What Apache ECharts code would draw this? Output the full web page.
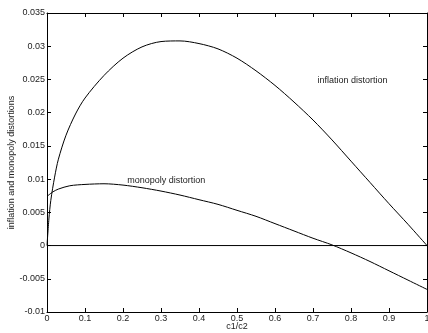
<!DOCTYPE html>
<html>
<head>
<meta charset="utf-8">
<script src="https://cdn.jsdelivr.net/npm/echarts@6/dist/echarts.min.js"></script>
<style>html,body{margin:0;padding:0;background:#fff;}#c{width:428px;height:333px;}</style>
</head>
<body>
<div id="c"></div>
<script>
var inflationX = [0, 0.005, 0.01, 0.02, 0.03, 0.05, 0.075, 0.1, 0.15, 0.2, 0.25, 0.3, 0.35, 0.4, 0.45, 0.5, 0.55, 0.6, 0.65, 0.7, 0.75, 0.8, 0.85, 0.9, 0.95, 1.0];
var inflation = [0, 0.0040, 0.0068, 0.0103, 0.0130, 0.0166, 0.0198, 0.0222, 0.0256, 0.0282, 0.0299, 0.0307, 0.0308, 0.0304, 0.0296, 0.0282, 0.0263, 0.0241, 0.0216, 0.0189, 0.0159, 0.0127, 0.0095, 0.0063, 0.0032, 0];
var monopolyX = [0, 0.016, 0.03, 0.06, 0.1, 0.15, 0.2, 0.25, 0.3, 0.35, 0.4, 0.45, 0.5, 0.55, 0.6, 0.65, 0.7, 0.75, 0.8, 0.85, 0.9, 0.95, 1.0];
var monopoly = [0.0074, 0.0081, 0.0085, 0.0090, 0.0092, 0.0093, 0.0091, 0.0087, 0.0082, 0.0076, 0.0069, 0.0062, 0.0053, 0.0044, 0.0033, 0.0022, 0.0011, 0.0001, -0.0011, -0.0024, -0.0038, -0.0052, -0.0066];
var zeroX = [0, 1];
var zeroLine = [0, 0];
var xTickLabels = ['0', '0.1', '0.2', '0.3', '0.4', '0.5', '0.6', '0.7', '0.8', '0.9', '1'];
var yTickLabels = ['-0.01', '-0.005', '0', '0.005', '0.01', '0.015', '0.02', '0.025', '0.03', '0.035'];
var annotations = [
  {text: 'inflation distortion', x: 0.804, y: 0.0249},
  {text: 'monopoly distortion', x: 0.314, y: 0.0098}
];

function pairs(xs, ys) { return xs.map(function (x, i) { return [x, ys[i]]; }); }

var font = 'Liberation Sans, Arial, sans-serif';
var chart = echarts.init(document.getElementById('c'), null, {renderer: 'canvas'});
var axisCommon = {
  axisLine: {show: true, onZero: false, lineStyle: {color: '#000', width: 1}},
  axisTick: {show: true, inside: true, length: 4, lineStyle: {color: '#000'}},
  splitLine: {show: false}
};
var xMin = 0, xMax = 1, xInt = 0.1;
var yMin = -0.01, yMax = 0.035, yInt = 0.005;
chart.setOption({
  animation: false,
  backgroundColor: '#fff',
  grid: {left: 47, right: 1, top: 13, bottom: 21, containLabel: false, outerBoundsMode: 'none'},
  xAxis: [
    Object.assign({
      type: 'value', min: xMin, max: xMax, interval: xInt, position: 'bottom',
      name: 'c1/c2', nameLocation: 'middle', nameGap: 10, nameMoveOverlap: false,
      nameTextStyle: {fontFamily: font, fontSize: 9, color: '#222'},
      axisLabel: {show: true, margin: 2, fontFamily: font, fontSize: 9, color: '#222',
        formatter: function (v) { return xTickLabels[Math.round((v - xMin) / xInt)]; }}
    }, axisCommon),
    Object.assign({
      type: 'value', min: xMin, max: xMax, interval: xInt, position: 'top',
      axisLabel: {show: false}
    }, axisCommon)
  ],
  yAxis: [
    Object.assign({
      type: 'value', min: yMin, max: yMax, interval: yInt, position: 'left',
      name: 'inflation and monopoly distortions', nameLocation: 'middle', nameGap: 31, nameMoveOverlap: false,
      nameTextStyle: {fontFamily: font, fontSize: 9, color: '#222'},
      axisLabel: {show: true, margin: 2, fontFamily: font, fontSize: 9, color: '#222',
        formatter: function (v) { return yTickLabels[Math.round((v - yMin) / yInt)]; }}
    }, axisCommon),
    Object.assign({
      type: 'value', min: yMin, max: yMax, interval: yInt, position: 'right',
      axisLabel: {show: false}
    }, axisCommon)
  ],
  series: [
    {
      type: 'line', data: pairs(inflationX, inflation), smooth: 0.3, showSymbol: false,
      lineStyle: {color: '#000', width: 1}, silent: true,
      markPoint: {
        symbolSize: 0,
        label: {show: true, position: 'inside', fontFamily: font, fontSize: 9, color: '#222', formatter: '{b}'},
        data: annotations.map(function (a) { return {name: a.text, coord: [a.x, a.y], value: a.text}; })
      }
    },
    {
      type: 'line', data: pairs(monopolyX, monopoly), smooth: 0.3, showSymbol: false,
      lineStyle: {color: '#000', width: 1}, silent: true
    },
    {
      type: 'line', data: pairs(zeroX, zeroLine), showSymbol: false,
      lineStyle: {color: '#000', width: 1}, silent: true
    }
  ]
});
</script>
</body>
</html>
